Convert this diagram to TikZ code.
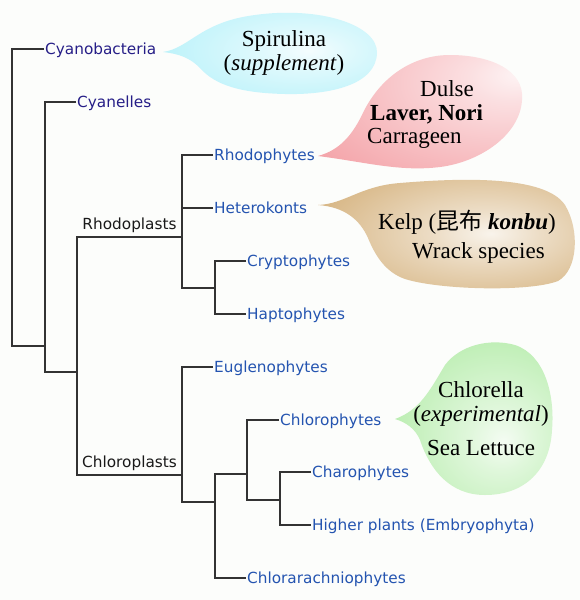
\documentclass[tikz,border=0pt]{standalone}
\usepackage{fontspec}
\usepackage{xcolor}
\usepackage{tikz}
\usetikzlibrary{calc, positioning}
\setmainfont{Liberation Serif}
\newfontfamily\treefont{DejaVu Sans}
\newfontfamily\cjkfont{Noto Sans CJK JP}
\definecolor{paper}{RGB}{252,253,251}
\definecolor{cyanoblue}{RGB}{38,30,135}
\definecolor{taxonblue}{RGB}{36,84,176}
\definecolor{bubcyan}{RGB}{165,238,248}
\definecolor{bubpink}{RGB}{244,165,170}
\definecolor{bubtan}{RGB}{202,158,92}
\definecolor{bubgreen}{RGB}{165,232,152}
\newcommand{\bubbleshading}[3]{\pgfdeclareradialshading{#1}{#2}{color(0bp)=(#3!12); color(10bp)=(#3!35); color(46bp)=(#3); color(100bp)=(#3)}}
\bubbleshading{cyanbub}{\pgfpoint{9bp}{0bp}}{bubcyan}
\bubbleshading{pinkbub}{\pgfpoint{24bp}{17bp}}{bubpink}
\bubbleshading{tanbub}{\pgfpoint{8bp}{0bp}}{bubtan}
\bubbleshading{greenbub}{\pgfpoint{9bp}{-8bp}}{bubgreen}
\tikzset{
    branch/.style={draw=black!80, line width=1.4pt},
    taxon/.style={font=\treefont\fontsize{15.3}{18}\selectfont, text=taxonblue, inner xsep=1pt, inner ysep=0pt, text height=11pt, text depth=0pt, anchor=west},
    cyano/.style={taxon, text=cyanoblue},
    plastid/.style={font=\treefont\fontsize{15.3}{18}\selectfont, text=black!90, inner sep=0pt, text depth=0pt},
    bubtext/.style={font=\fontsize{23}{23.5}\selectfont, inner sep=0pt}
}

\begin{document}
\begin{tikzpicture}[x=1pt, y=-1pt]
    \fill[paper] (0,0) rectangle (580,600);
    \useasboundingbox (0,0) rectangle (580,600);

    % Bubbles
    \shade[shading=cyanbub] (163,52) .. controls (190,48) and (200,22) .. (255,15) .. controls (320,6) and (378,25) .. (377,53) .. controls (376,85) and (330,95) .. (285,94) .. controls (240,93) and (215,85) .. (200,68) .. controls (190,58) and (180,54) .. (163,52);
    \shade[shading=pinkbub] (318,156) .. controls (340,150) and (352,135) .. (362,115) .. controls (378,80) and (410,55) .. (450,55) .. controls (490,55) and (525,70) .. (522,100) .. controls (520,135) and (480,162) .. (440,167) .. controls (400,172) and (365,162) .. (318,156);
    \shade[shading=tanbub] (318,205) .. controls (345,204) and (360,186) .. (400,183) .. controls (460,178) and (545,175) .. (565,205) .. controls (580,230) and (578,270) .. (558,281) .. controls (530,292) and (440,290) .. (405,279) .. controls (385,272) and (375,255) .. (368,238) .. controls (360,220) and (345,207) .. (318,205);
    \shade[shading=greenbub] (395,419) .. controls (420,410) and (430,390) .. (445,365) .. controls (460,345) and (490,338) .. (515,345) .. controls (545,355) and (555,395) .. (552,430) .. controls (550,470) and (525,495) .. (485,495) .. controls (450,495) and (430,470) .. (420,440) .. controls (415,428) and (405,422) .. (395,419);

    \node[bubtext, align=center] (spirulina) at (284,53) {Spirulina\\(\textit{supplement})};
    \node[bubtext, align=left, anchor=west] (redweed) at (367,114.5) {\hspace*{53pt}Dulse\\\hspace*{3pt}\textbf{Laver, Nori}\\Carrageen};
    \node[bubtext, align=left, anchor=west] (kelp) at (378,237) {Kelp ({\cjkfont 昆布} \textbf{\textit{konbu}})\\[5.5pt]\hspace*{34pt}Wrack species};
    \node[bubtext, align=center] (chlorella) at (481,419) {Chlorella\\(\textit{experimental})\\[11pt]Sea Lettuce};

    % Taxa
    \node[cyano] (cyanobac) at (44,49) {Cyanobacteria};
    \node[cyano] (cyanel) at (76,102) {Cyanelles};
    \node[taxon] (rhodo) at (213,155) {Rhodophytes};
    \node[taxon] (hetero) at (213,208) {Heterokonts};
    \node[taxon] (crypto) at (246,261) {Cryptophytes};
    \node[taxon] (hapto) at (246,314) {Haptophytes};
    \node[taxon] (eugleno) at (213,367) {Euglenophytes};
    \node[taxon] (chloro) at (279,420) {Chlorophytes};
    \node[taxon] (charo) at (311,472) {Charophytes};
    \node[taxon] (embryo) at (311,525) {Higher plants (Embryophyta)};
    \node[taxon] (chlorar) at (246,578) {Chlorarachniophytes};

    % Junctions
    \coordinate (root) at (12,346);
    \coordinate (j1) at (45,346);
    \coordinate (j2) at (77,372);
    \coordinate (rp) at (182,237);
    \coordinate (cp) at (182,475);
    \coordinate (j3) at (215,288);
    \coordinate (j4) at (215,502);
    \coordinate (j5) at (247,474);
    \coordinate (j6) at (280,500);

    % Tree
    \draw[branch] (cyanobac.west) -| (root) -- (j1);
    \draw[branch] (cyanel.west) -| (j1) |- (j2);
    \draw[branch] (rp) -| (j2) |- (cp);
    \draw[branch] (rhodo.west) -| (rp) |- (j3);
    \draw[branch] (hetero.west) -- (hetero.west -| rp);
    \draw[branch] (crypto.west) -| (j3) |- (hapto.west);
    \draw[branch] (eugleno.west) -| (cp) |- (j4);
    \draw[branch] (j5) -| (j4) |- (chlorar.west);
    \draw[branch] (chloro.west) -| (j5) |- (j6);
    \draw[branch] (charo.west) -| (j6) |- (embryo.west);

    \path (j2 |- rp) -- (rp) node[plastid, midway, above=7pt] (rhodoplasts) {Rhodoplasts};
    \path (j2 |- cp) -- (cp) node[plastid, midway, above=7pt] (chloroplasts) {Chloroplasts};
\end{tikzpicture}
\end{document}
